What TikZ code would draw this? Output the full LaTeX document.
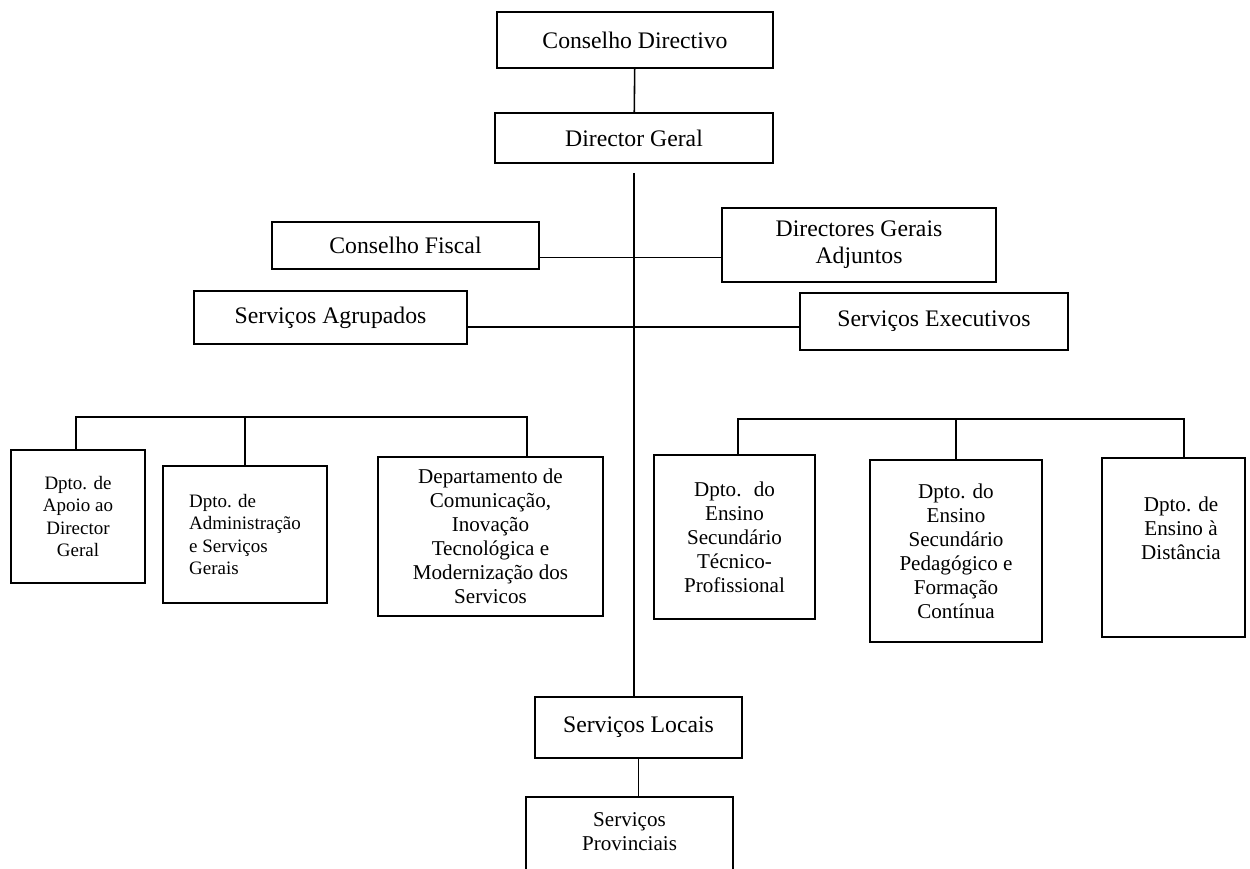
\documentclass[tikz,border=0pt]{standalone}
\usepackage{fontspec}
\setmainfont{Liberation Serif}
\usetikzlibrary{calc,positioning}

\begin{document}
\begin{tikzpicture}
  \tikzset{ unit/.style={draw,rectangle,inner sep=0pt,line width=0.9pt,align=center,
                         font=\fontsize{13.5}{15.5}\selectfont},
            dept/.style={unit,font=\fontsize{12}{13.7}\selectfont},
            dsmall/.style={unit,font=\fontsize{10.8}{12.6}\selectfont},
            link/.style={line width=0.9pt},
  }
  \useasboundingbox (0,0) rectangle (25,-17.38);

  % top of the chart
  \node (cd)  at (12.70,-0.80) [unit,minimum width=5.52cm,minimum height=1.12cm] {Conselho Directivo};
  \node (dg)  at (12.68,-2.76) [unit,minimum width=5.56cm,minimum height=1.00cm] {Director Geral};
  \node (cf)  at (8.11,-4.91)  [unit,minimum width=5.34cm,minimum height=0.94cm] {Conselho Fiscal};
  \node (dga) at (17.18,-4.90) [unit,minimum width=5.48cm,minimum height=1.48cm] {Directores Gerais\\Adjuntos};
  \node (sa)  at (6.61,-6.35)  [unit,minimum width=5.46cm,minimum height=1.06cm] {Serviços Agrupados};
  \node (se)  at (18.68,-6.43) [unit,minimum width=5.36cm,minimum height=1.14cm] {Serviços Executivos};

  % departments
  \node (apoio) at (1.56,-10.33) [dsmall,minimum width=2.68cm,minimum height=2.66cm] {Dpto. de\\Apoio ao\\Director\\Geral};
  \node (adm)   at (4.90,-10.69) [dsmall,align=left,minimum width=3.28cm,minimum height=2.74cm] {Dpto. de\\Administração\\e Serviços\\Gerais};
  \node (dcitm) at (9.81,-10.73) [dept,minimum width=4.50cm,minimum height=3.18cm] {Departamento de\\Comunicação,\\Inovação\\Tecnológica e\\Modernização dos\\Servicos};
  \node (ensTP) at (14.69,-10.74) [dept,minimum width=3.22cm,minimum height=3.28cm] {Dpto.~ do\\Ensino\\Secundário\\Técnico-\\Profissional};
  \node (ensPF) at (19.12,-11.02) [dept,minimum width=3.44cm,minimum height=3.64cm] {Dpto. do\\Ensino\\Secundário\\Pedagógico e\\Formação\\Contínua};
  \node (dist)  at (23.47,-10.95) [dept,minimum width=2.86cm,minimum height=3.58cm] {};
  \node (distT) [below=0.78cm of dist.north,xshift=0.15cm,font=\fontsize{12}{13.7}\selectfont,align=center,inner sep=0pt] {Dpto. de\\Ensino à\\Distância};

  % local level
  \node (sl) at (12.77,-14.55) [unit,minimum width=4.14cm,minimum height=1.22cm] {Serviços Locais};
  \node (sp) at (12.59,-16.84) [unit,minimum width=4.14cm,minimum height=1.80cm] {};
  \node (spT) at (12.59,-16.64) [dept,draw=none] {Serviços\\Provinciais};

  \coordinate (lbusL) at (1.52,-8.34);
  \coordinate (lbusR) at (10.54,-8.34);
  \coordinate (rbusL) at (14.76,-8.38);
  \coordinate (rbusR) at (23.68,-8.38);

  \draw[link] (cd) -- (dg);
  \draw[link,shorten <=0.18cm] (dg.south) -- (dg.south |- sl.north);
  \draw[link] ($(cf.east)!.5!(cf.south east)$) coordinate (l1) -- (l1 -| dga.west);
  \draw[link] ($(sa.east)!.35!(sa.south east)$) coordinate (l2) -- (l2 -| se.west);

  \draw[link] (lbusL |- apoio.north) -- (lbusL) -- (lbusR) -- (lbusR |- dcitm.north);
  \draw[link] (adm.north) -- (adm.north |- lbusL);
  \draw[link] (rbusL |- ensTP.north) -- (rbusL) -- (rbusR) -- (rbusR |- dist.north);
  \draw[link] (ensPF.north) -- (ensPF.north |- rbusL);

  \draw[link] (sl.south) -- (sl.south |- sp.north);
\end{tikzpicture}
\end{document}
